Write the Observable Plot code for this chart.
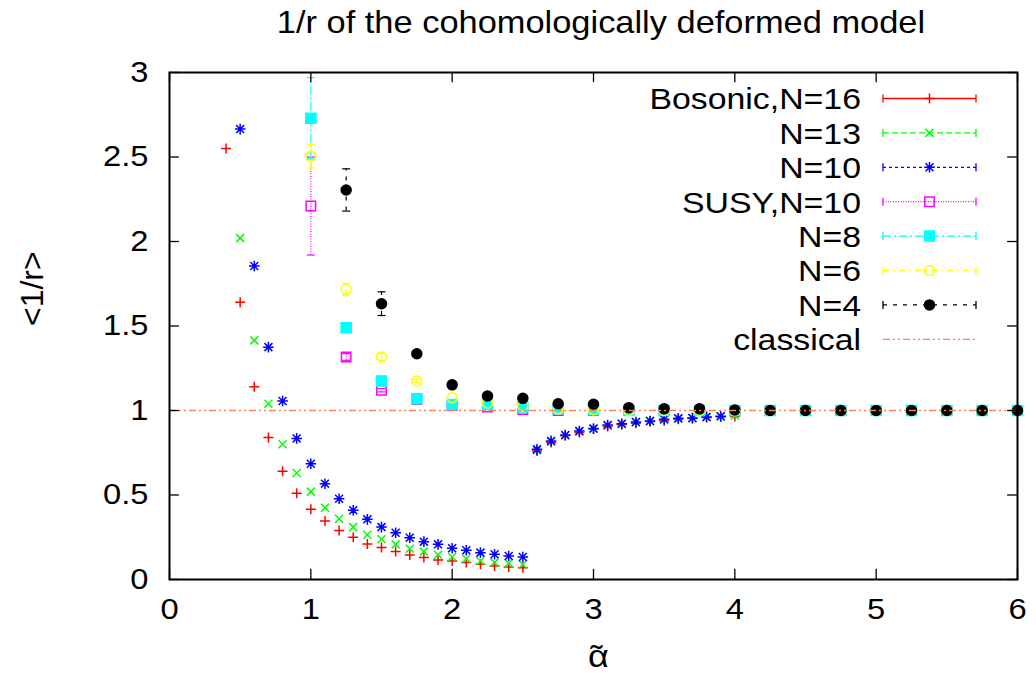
<!DOCTYPE html>
<html><head><meta charset="utf-8">
<script src="https://cdn.jsdelivr.net/npm/d3@7"></script>
<script src="https://cdn.jsdelivr.net/npm/@observablehq/plot@0.6"></script>
<style>
body{margin:0;background:#fff;font-family:"Liberation Sans",Arial,Helvetica,sans-serif;}
#title{position:relative;height:46px;}
#title span{position:absolute;left:601px;top:22px;transform:translate(-50%,-50%) scaleX(1.128);font-size:30.5px;white-space:nowrap;color:#000;}
#chart{width:1036px;}
</style></head><body>
<div id="title"><span id="titletext"></span></div>
<div id="chart"></div>
<script>
// ---------- data ----------
const titleText = "1/r of the cohomologically deformed model";
const xLabel = "α";
const xLabelAccent = "˜";
const yLabel = "<1/r>";
const xTicks = [0, 1, 2, 3, 4, 5, 6];
const yTicks = [0, 0.5, 1, 1.5, 2, 2.5, 3];

const bosonicX = [0.4,0.5,0.6,0.7,0.8,0.9,1.0,1.1,1.2,1.3,1.4,1.5,1.6,1.7,1.8,1.9,2.0,2.1,2.2,2.3,2.4,2.5,2.6,2.7,2.8,2.9,3.0,3.1,3.2,3.3,3.4,3.5,3.6,3.7,3.8,3.9,4.0];
const bosonicY = [2.55,1.64,1.14,0.84,0.64,0.51,0.415,0.346,0.29,0.25,0.21,0.19,0.165,0.145,0.13,0.115,0.11,0.10,0.09,0.08,0.074,0.07,0.76,0.81,0.85,0.87,0.89,0.905,0.915,0.925,0.935,0.94,0.948,0.952,0.958,0.962,0.965];

const n13X = [0.5,0.6,0.7,0.8,0.9,1.0,1.1,1.2,1.3,1.4,1.5,1.6,1.7,1.8,1.9,2.0,2.1,2.2,2.3,2.4,2.5,2.6,2.7,2.8,2.9,3.0,3.1,3.2,3.3,3.4,3.5,3.6,3.7,3.8,3.9,4.0];
const n13Y = [2.02,1.415,1.04,0.80,0.63,0.52,0.425,0.36,0.31,0.265,0.238,0.208,0.182,0.165,0.147,0.133,0.123,0.11,0.10,0.096,0.09,0.765,0.815,0.852,0.875,0.892,0.91,0.92,0.93,0.937,0.945,0.952,0.955,0.96,0.965,0.97];

const n10X = [0.5,0.6,0.7,0.8,0.9,1.0,1.1,1.2,1.3,1.4,1.5,1.6,1.7,1.8,1.9,2.0,2.1,2.2,2.3,2.4,2.5,2.6,2.7,2.8,2.9,3.0,3.1,3.2,3.3,3.4,3.5,3.6,3.7,3.8,3.9];
const n10Y = [2.665,1.855,1.375,1.056,0.835,0.685,0.567,0.478,0.41,0.356,0.31,0.277,0.247,0.224,0.208,0.185,0.173,0.159,0.149,0.139,0.133,0.77,0.82,0.855,0.879,0.893,0.914,0.922,0.932,0.938,0.948,0.954,0.956,0.962,0.966];

const quarterX = [1.0,1.25,1.5,1.75,2.0,2.25,2.5,2.75,3.0,3.25,3.5,3.75,4.0,4.25,4.5,4.75,5.0,5.25,5.5,5.75,6.0];
const susyY   = [2.21,1.317,1.12,1.065,1.03,1.02,1.005,1.0,1.0,1.0,1.0,1.0,1.0,1.0,1.0,1.0,1.0,1.0,1.0,1.0,1.0];
const susyErr = [0.29,0.02,0.01,0,0,0,0,0,0,0,0,0,0,0,0,0,0,0,0,0,0];
const n8Y     = [2.73,1.49,1.175,1.07,1.035,1.035,1.02,1.01,1.005,1.0,1.0,1.0,1.0,1.0,1.0,1.0,1.0,1.0,1.0,1.0,1.0];
const n8Err   = [0.24,0.01,0,0,0,0,0,0,0,0,0,0,0,0,0,0,0,0,0,0,0];
const n6Y     = [2.505,1.717,1.317,1.175,1.076,1.045,1.027,1.01,1.005,1.0,1.0,1.0,1.0,1.0,1.0,1.0,1.0,1.0,1.0,1.0,1.0];
const n6Err   = [0.07,0.035,0.02,0.01,0,0,0,0,0,0,0,0,0,0,0,0,0,0,0,0,0];

const n4X   = [1.25,1.5,1.75,2.0,2.25,2.5,2.75,3.0,3.25,3.5,3.75,4.0,4.25,4.5,4.75,5.0,5.25,5.5,5.75,6.0];
const n4Y   = [2.305,1.632,1.336,1.152,1.086,1.072,1.04,1.037,1.017,1.01,1.01,1.003,1.0,1.0,1.0,1.0,1.0,1.0,1.0,1.0];
const n4Err = [0.125,0.07,0.015,0,0,0,0,0,0,0,0,0,0,0,0,0,0,0,0,0];

const classicalLabel = "classical";
const classicalValue = [1];

const seriesLabels = ["Bosonic,N=16","N=13","N=10","SUSY,N=10","N=8","N=6","N=4"];

document.getElementById("titletext").textContent = titleText;

// ---------- styling ----------
const FONT = '"Liberation Sans", Arial, Helvetica, sans-serif';
const SX = 1.128;
const sym = {
  plus: {draw(c,s){const r=Math.sqrt(s/Math.PI);c.moveTo(-r,0);c.lineTo(r,0);c.moveTo(0,-r);c.lineTo(0,r);}},
  times: {draw(c,s){const r=Math.sqrt(s/Math.PI)*0.8;c.moveTo(-r,-r);c.lineTo(r,r);c.moveTo(-r,r);c.lineTo(r,-r);}},
  star: {draw(c,s){const r=Math.sqrt(s/Math.PI),q=r*0.75;c.moveTo(-r,0);c.lineTo(r,0);c.moveTo(0,-r);c.lineTo(0,r);c.moveTo(-q,-q);c.lineTo(q,q);c.moveTo(-q,q);c.lineTo(q,-q);}},
  square: {draw(c,s){const r=Math.sqrt(s/Math.PI);c.moveTo(-r,-r);c.lineTo(r,-r);c.lineTo(r,r);c.lineTo(-r,r);c.closePath();}},
  circle: {draw(c,s){const r=Math.sqrt(s/Math.PI);c.moveTo(r,0);c.arc(0,0,r,0,2*Math.PI);}},
  cap: {draw(c,s){const r=Math.sqrt(s/Math.PI);c.moveTo(-r,0);c.lineTo(r,0);}}
};
function pts(xs, ys, errs){ return xs.map((x,i)=>({x, y: ys[i], e: errs ? errs[i] : 0})); }

const series = [
  {label: seriesLabels[0], data: pts(bosonicX, bosonicY), color:"#ff0000", symbol: sym.plus,   r:5,   fill:"none", dash:null},
  {label: seriesLabels[1], data: pts(n13X, n13Y),         color:"#00ff00", symbol: sym.times,  r:5,   fill:"none", dash:"6,3"},
  {label: seriesLabels[2], data: pts(n10X, n10Y),         color:"#0000ff", symbol: sym.star,   r:5.3, fill:"none", dash:"3,3"},
  {label: seriesLabels[3], data: pts(quarterX, susyY, susyErr), color:"#ff00ff", symbol: sym.square, r:4.7, fill:"none", dash:"1,1.5"},
  {label: seriesLabels[4], data: pts(quarterX, n8Y, n8Err),     color:"#00ffff", symbol: sym.square, r:5, fill:"#00ffff", dash:"8,3,2,3"},
  {label: seriesLabels[5], data: pts(quarterX, n6Y, n6Err),     color:"#ffff00", symbol: sym.circle, r:5, fill:"none", dash:"6,4,2,4"},
  {label: seriesLabels[6], data: pts(n4X, n4Y, n4Err),          color:"#000000", symbol: sym.circle, r:5, fill:"#000000", dash:"4,6"}
];
const classicalColor = "#ff7f50";
const classicalDash = "7,3,2,3,2,3";

function legendMark(index, scales, values, dims) {
  const g = d3.create("svg:g").attr("font-family", FONT).attr("font-size", 30).attr("fill", "black");
  const right = dims.width - dims.marginRight;
  const top = dims.marginTop;
  const items = series.concat([{label: classicalLabel, color: classicalColor, dash: classicalDash, classical: true}]);
  items.forEach((it, i) => {
    const y = top + 26.5 + i * 34.4;
    g.append("text").attr("transform", `translate(${right - 156},${y}) scale(${SX},1)`)
      .attr("text-anchor", "end").attr("dy", "0.36em").text(it.label);
    const x1 = right - 134, x2 = right - 41;
    g.append("line").attr("x1", x1).attr("x2", x2).attr("y1", y).attr("y2", y)
      .attr("stroke", it.color).attr("stroke-width", 1.3).attr("stroke-dasharray", it.dash);
    if (!it.classical) {
      for (const xx of [x1, x2]) g.append("line").attr("x1", xx).attr("x2", xx).attr("y1", y - 4).attr("y2", y + 4)
        .attr("stroke", it.color).attr("stroke-width", 1.3);
      g.append("path").attr("transform", `translate(${(x1 + x2) / 2},${y})`)
        .attr("d", d3.symbol(it.symbol, Math.PI * it.r * it.r)())
        .attr("fill", it.fill).attr("stroke", it.color).attr("stroke-width", 1.5);
    }
  });
  return g.node();
}

const marks = [];
for (const s of series) {
  const errs = s.data.filter(d => d.e > 0);
  if (errs.length) {
    marks.push(Plot.ruleX(errs, {x: "x", y1: d => d.y - d.e, y2: d => d.y + d.e, stroke: s.color, strokeWidth: 1.2, strokeDasharray: s.dash}));
    marks.push(Plot.dot(errs, {x: "x", y: d => d.y - d.e, symbol: sym.cap, r: 4, stroke: s.color, strokeWidth: 1.2, fill: "none"}));
    marks.push(Plot.dot(errs, {x: "x", y: d => d.y + d.e, symbol: sym.cap, r: 4, stroke: s.color, strokeWidth: 1.2, fill: "none"}));
  }
  marks.push(Plot.dot(s.data, {x: "x", y: "y", symbol: s.symbol, r: s.r, stroke: s.color, fill: s.fill, strokeWidth: 1.5}));
}
marks.push(Plot.ruleY(classicalValue, {y: d => d, stroke: classicalColor, strokeWidth: 1.3, strokeDasharray: classicalDash}));

const chart = Plot.plot({
  width: 1036,
  height: 643,
  marginTop: 26,
  marginBottom: 110,
  marginLeft: 169,
  marginRight: 19,
  style: {fontFamily: FONT, fontSize: "29px", background: "white", color: "black"},
  x: {domain: [0, 6], ticks: xTicks, tickSize: 0, tickPadding: 19, label: null, tickFormat: d => String(d)},
  y: {domain: [0, 3], ticks: yTicks, tickSize: 0, tickPadding: 21, label: null, tickFormat: d => String(d)},
  marks: [
    ...marks,
    Plot.ruleX(xTicks, {x: d => d, y1: 0, y2: 0.06, stroke: "black", strokeWidth: 1.3}),
    Plot.ruleX(xTicks, {x: d => d, y1: 3, y2: 2.94, stroke: "black", strokeWidth: 1.3}),
    Plot.ruleY(yTicks, {y: d => d, x1: 0, x2: 0.07, stroke: "black", strokeWidth: 1.3}),
    Plot.ruleY(yTicks, {y: d => d, x1: 6, x2: 5.93, stroke: "black", strokeWidth: 1.3}),
    Plot.frame({stroke: "black", strokeWidth: 2}),
    Plot.text([yLabel], {text: d => d, frameAnchor: "left", dx: -137, rotate: -90, fontSize: 32}),
    Plot.text([xLabel], {text: d => d, frameAnchor: "bottom", dx: 5, dy: 87, fontSize: 32}),
    Plot.text([xLabelAccent], {text: d => d, frameAnchor: "bottom", dx: 3, dy: 88, fontSize: 32}),
    legendMark
  ]
});
chart.querySelectorAll("text").forEach(t => {
  const tr = t.getAttribute("transform");
  if (tr && !tr.includes("rotate") && !tr.includes("scale")) t.setAttribute("transform", tr + ` scale(${SX},1)`);
});
document.getElementById("chart").appendChild(chart);
</script></body></html>
